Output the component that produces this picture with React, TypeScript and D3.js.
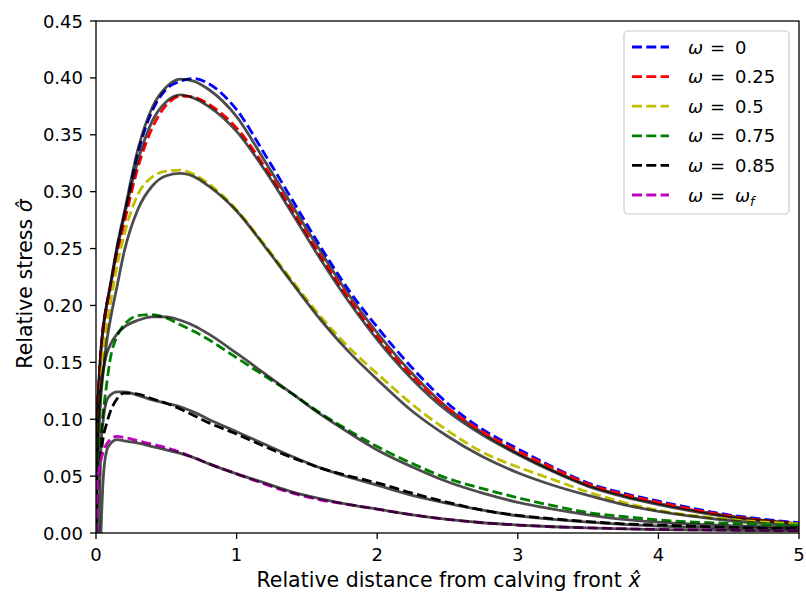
import React from "react";
import * as d3 from "d3";

const X = [0, 0.01, 0.02, 0.035, 0.05, 0.075, 0.1, 0.15, 0.2, 0.3, 0.4, 0.5, 0.6, 0.7, 0.8, 1.0, 1.2, 1.4, 1.6, 1.8, 2.0, 2.25, 2.5, 2.75, 3.0, 3.25, 3.5, 3.75, 4.0, 4.5, 5.0];

const blueDashed = [0, 0.10, 0.13, 0.16, 0.18, 0.20, 0.215, 0.25, 0.278, 0.335, 0.371, 0.390, 0.397, 0.3995, 0.395, 0.372, 0.333, 0.292, 0.251, 0.213, 0.181, 0.145, 0.114, 0.091, 0.074, 0.058, 0.044, 0.035, 0.028, 0.016, 0.009];
const blueSolid = [0, 0.10, 0.13, 0.16, 0.18, 0.20, 0.217, 0.252, 0.281, 0.338, 0.374, 0.392, 0.399, 0.397, 0.390, 0.366, 0.327, 0.287, 0.247, 0.209, 0.176, 0.140, 0.110, 0.088, 0.070, 0.055, 0.042, 0.033, 0.026, 0.015, 0.008];
const redDashed = [0, 0.10, 0.13, 0.158, 0.176, 0.197, 0.212, 0.245, 0.272, 0.322, 0.356, 0.376, 0.384, 0.383, 0.377, 0.356, 0.322, 0.283, 0.243, 0.206, 0.173, 0.138, 0.110, 0.089, 0.072, 0.057, 0.043, 0.034, 0.027, 0.015, 0.008];
const redSolid = [0, 0.10, 0.13, 0.16, 0.178, 0.20, 0.215, 0.249, 0.278, 0.328, 0.362, 0.379, 0.385, 0.382, 0.375, 0.353, 0.319, 0.280, 0.240, 0.203, 0.170, 0.135, 0.107, 0.086, 0.069, 0.054, 0.041, 0.032, 0.025, 0.014, 0.008];
const yellowDashed = [0, 0.07, 0.10, 0.13, 0.155, 0.18, 0.20, 0.235, 0.262, 0.298, 0.313, 0.318, 0.319, 0.315, 0.307, 0.284, 0.253, 0.221, 0.190, 0.163, 0.140, 0.113, 0.090, 0.071, 0.058, 0.047, 0.036, 0.027, 0.020, 0.012, 0.008];
const yellowSolid = [0, 0.05, 0.085, 0.12, 0.14, 0.167, 0.186, 0.217, 0.247, 0.285, 0.305, 0.314, 0.316, 0.313, 0.305, 0.283, 0.252, 0.219, 0.187, 0.159, 0.135, 0.107, 0.085, 0.067, 0.053, 0.042, 0.033, 0.025, 0.019, 0.011, 0.006];
const greenDashed = [0, 0.045, 0.063, 0.085, 0.105, 0.13, 0.152, 0.173, 0.183, 0.191, 0.192, 0.189, 0.183, 0.177, 0.170, 0.154, 0.138, 0.122, 0.105, 0.090, 0.076, 0.061, 0.048, 0.039, 0.031, 0.024, 0.018, 0.0145, 0.0115, 0.0085, 0.007];
const greenSolid = [0, 0.085, 0.108, 0.129, 0.142, 0.157, 0.165, 0.175, 0.181, 0.187, 0.190, 0.190, 0.187, 0.182, 0.175, 0.158, 0.140, 0.122, 0.104, 0.088, 0.073, 0.058, 0.045, 0.035, 0.027, 0.021, 0.016, 0.012, 0.0095, 0.0065, 0.005];
const blackDashed = [0, 0.035, 0.05, 0.068, 0.083, 0.096, 0.106, 0.118, 0.123, 0.122, 0.118, 0.114, 0.109, 0.103, 0.097, 0.087, 0.076, 0.066, 0.057, 0.050, 0.044, 0.035, 0.027, 0.020, 0.0155, 0.0125, 0.010, 0.008, 0.007, 0.005, 0.004];
const blackSolid = [null, null, 0, 0.075, 0.098, 0.116, 0.121, 0.124, 0.124, 0.121, 0.117, 0.114, 0.111, 0.106, 0.100, 0.089, 0.078, 0.067, 0.057, 0.049, 0.042, 0.033, 0.026, 0.020, 0.015, 0.012, 0.0095, 0.0075, 0.006, 0.0045, 0.0035];
const magentaDashed = [0, 0.042, 0.054, 0.064, 0.071, 0.078, 0.082, 0.085, 0.084, 0.081, 0.078, 0.075, 0.071, 0.066, 0.061, 0.052, 0.043, 0.035, 0.029, 0.025, 0.021, 0.016, 0.012, 0.009, 0.007, 0.0055, 0.0045, 0.0038, 0.0032, 0.0025, 0.002];
const magentaSolid = [null, null, null, 0, 0.045, 0.072, 0.078, 0.082, 0.081, 0.079, 0.076, 0.073, 0.070, 0.066, 0.061, 0.052, 0.044, 0.036, 0.030, 0.025, 0.021, 0.016, 0.012, 0.009, 0.007, 0.0055, 0.0045, 0.0037, 0.003, 0.0023, 0.0018];

const legendLabels = ["0", "0.25", "0.5", "0.75", "0.85", "f"];
const colors = ["#0000ff", "#ff0000", "#bfbf00", "#008000", "#000000", "#bf00bf"];
const dashedSeries = [blueDashed, redDashed, yellowDashed, greenDashed, blackDashed, magentaDashed];
const solidSeries = [blueSolid, redSolid, yellowSolid, greenSolid, blackSolid, magentaSolid];

const xTicks = [0, 1, 2, 3, 4, 5];
const yTicks = [0, 0.05, 0.1, 0.15, 0.2, 0.25, 0.3, 0.35, 0.4, 0.45];

const W = 806, H = 595;
const L = 96, R = 799, T = 21, B = 533;
const FONT = "DejaVu Sans, sans-serif";
const TICK_FS = 18;
const LABEL_FS = 20.5;
const LEG_FS = 18;

export default function App() {
  const x = d3.scaleLinear().domain([0, 5]).range([L, R]);
  const y = d3.scaleLinear().domain([0, 0.45]).range([B, T]);
  const line = d3
    .line<[number, number | null]>()
    .defined((d) => d[1] != null)
    .x((d) => x(d[0]))
    .y((d) => y(d[1] as number))
    .curve(d3.curveMonotoneX);
  const pts = (vals: (number | null)[]) => X.map((xv, i) => [xv, vals[i]] as [number, number | null]);

  const legX = 624, legY = 31, legW = 165, legH = 183;
  const rowY = (i: number) => 47 + i * 29.6;

  return (
    <svg width={W} height={H} style={{ position: "absolute", left: 0, top: 0, background: "white" }} fontFamily={FONT}>
      <rect x={0} y={0} width={W} height={H} fill="white" />
      <defs>
        <clipPath id="plotClip">
          <rect x={L} y={T} width={R - L} height={B - T} />
        </clipPath>
      </defs>
      <g clipPath="url(#plotClip)">
        {dashedSeries.map((s, i) => (
          <g key={i}>
            <path d={line(pts(s)) || ""} fill="none" stroke={colors[i]} strokeWidth={2.8} strokeDasharray="10,4.3" />
            <path d={line(pts(solidSeries[i])) || ""} fill="none" stroke="#000" strokeOpacity={0.7} strokeWidth={2.8} />
          </g>
        ))}
      </g>
      <rect x={L} y={T} width={R - L} height={B - T} fill="none" stroke="#000" strokeWidth={1.3} />
      {xTicks.map((t) => (
        <g key={"x" + t}>
          <line x1={x(t)} x2={x(t)} y1={B} y2={B + 6} stroke="#000" strokeWidth={1.3} />
          <text x={x(t)} y={561} textAnchor="middle" fontSize={TICK_FS} fill="#000">{t}</text>
        </g>
      ))}
      {yTicks.map((t) => (
        <g key={"y" + t}>
          <line x1={L - 6} x2={L} y1={y(t)} y2={y(t)} stroke="#000" strokeWidth={1.3} />
          <text x={83} y={y(t) + 6.5} textAnchor="end" fontSize={TICK_FS} fill="#000">{t.toFixed(2)}</text>
        </g>
      ))}
      <text x={(L + R) / 2 + 1} y={587} textAnchor="middle" fontSize={LABEL_FS} fill="#000">
        Relative distance from calving front <tspan fontStyle="italic">x̂</tspan>
      </text>
      <text transform={`translate(31.5, 284) rotate(-90)`} textAnchor="middle" fontSize={LABEL_FS} fill="#000">
        Relative stress <tspan fontStyle="italic">σ̂</tspan>
      </text>
      <rect x={legX} y={legY} width={legW} height={legH} rx={4} fill="white" fillOpacity={0.8} stroke="#cccccc" strokeWidth={1.2} />
      {legendLabels.map((lab, i) => (
        <g key={"l" + i} fontSize={LEG_FS} fill="#000">
          <line x1={632} x2={669} y1={rowY(i)} y2={rowY(i)} stroke={colors[i]} strokeWidth={2.8} strokeDasharray="10,4.3" />
          <text x={688} y={rowY(i) + 6.5} fontStyle="italic">ω</text>
          <text x={710} y={rowY(i) + 6.5}>=</text>
          {lab === "f" ? (
            <text x={735} y={rowY(i) + 6.5}>
              <tspan fontStyle="italic">ω</tspan>
              <tspan fontStyle="italic" fontSize={12.5} dy={4}>f</tspan>
            </text>
          ) : (
            <text x={735} y={rowY(i) + 6.5}>{lab}</text>
          )}
        </g>
      ))}
    </svg>
  );
}
